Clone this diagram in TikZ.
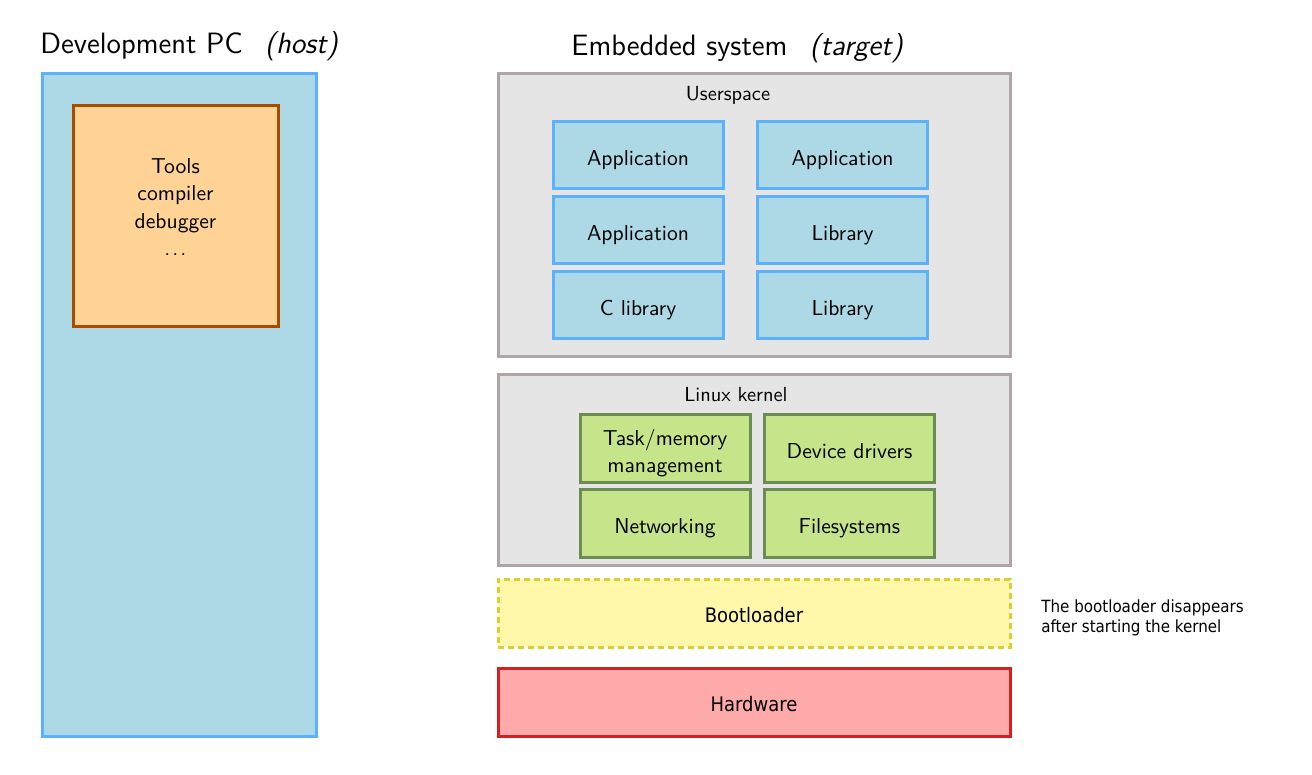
\documentclass[tikz,border=0pt]{standalone}
\usepackage{fontspec}
\newfontfamily\djc{DejaVu Sans Condensed}
\definecolor{hostfill}{HTML}{ADD8E6}
\definecolor{hostline}{HTML}{5CB1FF}
\definecolor{toolfill}{HTML}{FFD295}
\definecolor{toolline}{HTML}{A64B00}
\definecolor{layfill}{HTML}{E5E5E5}
\definecolor{layline}{HTML}{AFA4A6}
\definecolor{grnfill}{HTML}{C6E48A}
\definecolor{grnline}{HTML}{6C8C54}
\definecolor{ylwfill}{HTML}{FFF8AA}
\definecolor{ylwline}{HTML}{DCCD30}
\definecolor{redfill}{HTML}{FFAAAA}
\definecolor{redline}{HTML}{D42020}
\tikzset{
  box/.style={draw, rectangle, inner sep=0pt, line width=1.5pt},
  bluebox/.style={box, fill=hostfill, draw=hostline},
  appbox/.style={bluebox, minimum width=85pt, minimum height=33.5pt, text height=10.2pt, text depth=0pt, font=\sffamily\fontsize{10.8}{13}\selectfont},
  grnbox/.style={box, fill=grnfill, draw=grnline, minimum width=85pt, minimum height=34pt, text height=10.2pt, text depth=0pt, font=\sffamily\fontsize{10.8}{12.5}\selectfont},
  laybox/.style={box, fill=layfill, draw=layline, minimum width=256pt},
  lbl/.style={inner sep=0pt, font=\sffamily\fontsize{10.2}{12}\selectfont},
  widebox/.style={box, minimum width=256pt, minimum height=34pt, text height=9.6pt, text depth=0pt, font=\djc\fontsize{10}{12}\selectfont},
  ttl/.style={inner sep=0pt, anchor=base west, font=\sffamily\fontsize{14.7}{17}\selectfont}
}
\begin{document}
\begin{tikzpicture}[x=0.5pt,y=-0.5pt]
\useasboundingbox (0,0) rectangle (1312,775);
% host
\node[ttl] (hosttitle) at (40,54) {Development PC\hspace{0.75em}\textit{(host)}};
\node[bluebox, minimum width=137pt, minimum height=331pt] (host) at (179,405) {};
\node[box, fill=toolfill, draw=toolline, minimum width=102.5pt, minimum height=110.5pt] (tools) at (175.5,216.5) {};
\node[inner sep=0pt, align=center, font=\sffamily\fontsize{10.8}{13.6}\selectfont] (toolstxt) at (175.5,207) {Tools\\compiler\\debugger\\.\kern1pt.\kern1pt.};
% target
\node[ttl] (tgttitle) at (571,56) {Embedded system\hspace{0.75em}\textit{(target)}};
\node[laybox, minimum height=141pt] (user) at (754,215) {};
\node[lbl] (userlbl) at (728,95.5) {Userspace};
\node[appbox] (a1) at (638,155.5) {Application};
\node[appbox] (a2) at (842.5,155.5) {Application};
\node[appbox] (a3) at (638,230.5) {Application};
\node[appbox] (a4) at (842.5,230.5) {Library};
\node[appbox] (a5) at (638,305) {C library};
\node[appbox] (a6) at (842.5,305) {Library};
\node[laybox, minimum height=95.5pt] (kernel) at (754,469.5) {};
\node[lbl] (kernlbl) at (736,395) {Linux kernel};
\node[grnbox] (g1) at (665,448.5) {};
\node[inner sep=0pt, align=center, font=\sffamily\fontsize{10.8}{13.5}\selectfont] (g1txt) at (665,453.5) {Task/memory\\management};
\node[grnbox] (g2) at (849.5,448.5) {Device drivers};
\node[grnbox] (g3) at (665,523) {Networking};
\node[grnbox] (g4) at (849.5,523) {Filesystems};
\node[widebox, fill=ylwfill, draw=ylwline, dash pattern=on 3pt off 2pt] (boot) at (754,613) {Bootloader};
\node[widebox, fill=redfill, draw=redline] (hw) at (754,702) {Hardware};
\node[inner sep=0pt, anchor=west, align=left, font=\djc\fontsize{8.4}{10}\selectfont] (note) at (1041,618) {The bootloader disappears\\after starting the kernel};
\end{tikzpicture}
\end{document}
